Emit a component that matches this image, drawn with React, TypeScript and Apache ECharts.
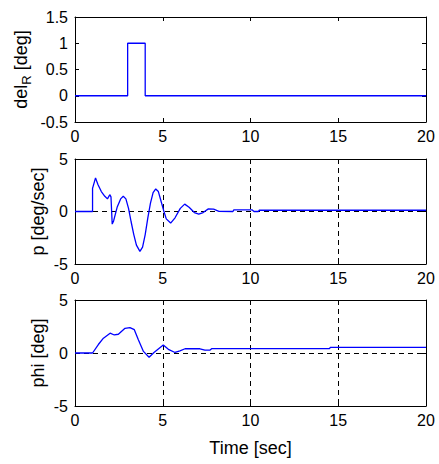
import React, { useEffect, useRef } from "react";
import * as echarts from "echarts";

// del_R input pulse
const tDelR = [0, 3, 3, 4, 4, 20];
const delR = [0, 0, 1, 1, 0, 0];

// roll rate p [deg/sec]
const tP = [0, 1.0, 1.0, 1.17, 1.3, 1.5, 1.7, 1.85, 1.98, 2.05, 2.12, 2.2, 2.4, 2.6, 2.75, 2.9, 3.05, 3.2, 3.35, 3.5, 3.7, 3.85, 4.0, 4.15, 4.3, 4.45, 4.6, 4.75, 4.9, 5.05, 5.2, 5.45, 5.7, 6.0, 6.25, 6.5, 6.8, 7.05, 7.3, 7.6, 7.9, 8.2, 9.0, 9.05, 10.1, 10.2, 10.45, 10.5, 20];
const pVals = [0, 0, 2.2, 3.2, 2.6, 1.9, 1.45, 1.2, 1.6, 1.4, -1.2, -0.9, 0.4, 1.2, 1.45, 1.2, 0.3, -1.0, -2.2, -3.2, -3.8, -3.4, -2.2, -0.6, 0.8, 1.8, 2.15, 1.9, 1.0, 0.1, -0.7, -1.1, -0.6, 0.3, 0.7, 0.4, -0.1, -0.25, -0.1, 0.25, 0.22, 0.02, 0.0, 0.15, 0.15, 0.0, 0.0, 0.12, 0.12];

// roll angle phi [deg]
const tPhi = [0, 1.0, 1.33, 1.62, 2.0, 2.24, 2.47, 2.85, 3.13, 3.38, 3.61, 3.9, 4.22, 4.5, 5.03, 5.32, 5.7, 5.98, 6.27, 7.12, 7.4, 7.7, 7.8, 14.5, 14.55, 20];
const phiVals = [0, 0, 0.8, 1.4, 1.87, 1.7, 1.77, 2.33, 2.4, 2.2, 1.25, 0.15, -0.4, 0.05, 0.76, 0.35, 0.05, 0.2, 0.4, 0.4, 0.28, 0.28, 0.42, 0.42, 0.54, 0.54];

const xTicks = [0, 5, 10, 15, 20];

const FONT = "Liberation Sans, Arial, Helvetica, sans-serif";
const BLUE = "#0000ff";

export default function App() {
  const ref = useRef<HTMLDivElement>(null);

  useEffect(() => {
    if (!ref.current) return;
    const chart = echarts.init(ref.current, null, { renderer: "svg" });

    const grids = [
      { left: 75, right: 13, top: 17, height: 105 },
      { left: 75, right: 13, top: 159, height: 105 },
      { left: 75, right: 13, top: 300, height: 106 },
    ];
    const yRanges = [
      { min: -0.5, max: 1.5, interval: 0.5 },
      { min: -5, max: 5, interval: 5 },
      { min: -5, max: 5, interval: 5 },
    ];
    const yNames = ["{a|del}{b|R}{a| [deg]}", "p [deg/sec]", "phi [deg]"];
    const yGaps = [42, 28, 28];
    const showGrid = [false, true, true];

    const dashed = { show: true, lineStyle: { color: "#000", type: [5, 4] as any, width: 1 } };
    const axisLine = { show: true, onZero: false, lineStyle: { color: "#000", width: 1 } };
    const tick = { show: true, inside: true, length: 4, lineStyle: { color: "#000" } };
    const label = { color: "#000", fontSize: 16, fontFamily: FONT };

    const xAxis: any[] = [];
    const yAxis: any[] = [];
    grids.forEach((g, i) => {
      xAxis.push({
        type: "value", gridIndex: i, min: xTicks[0], max: xTicks[xTicks.length - 1], interval: 5, position: "bottom",
        axisLine, axisTick: tick,
        axisLabel: { ...label, margin: 6 },
        splitLine: showGrid[i] ? dashed : { show: false },
        name: i === 2 ? "Time [sec]" : "",
        nameLocation: "middle", nameGap: 33, nameMoveOverlap: false,
        nameTextStyle: { color: "#000", fontSize: 18, fontFamily: FONT },
      });
      xAxis.push({
        type: "value", gridIndex: i, min: 0, max: 20, interval: 5, position: "top",
        axisLine, axisTick: tick, axisLabel: { show: false }, splitLine: { show: false },
      });
      yAxis.push({
        type: "value", gridIndex: i, ...yRanges[i], position: "left",
        axisLine, axisTick: tick,
        axisLabel: { ...label, margin: 7 },
        splitLine: showGrid[i] ? dashed : { show: false },
        name: yNames[i], nameLocation: "middle", nameGap: yGaps[i], nameRotate: 90,
        nameMoveOverlap: false,
        nameTextStyle: {
          color: "#000", fontSize: 18, fontFamily: FONT,
          rich: {
            a: { color: "#000", fontSize: 18, fontFamily: FONT, lineHeight: 24, verticalAlign: "middle" },
            b: { color: "#000", fontSize: 13, fontFamily: FONT, lineHeight: 13, verticalAlign: "bottom" },
          },
        },
      });
      yAxis.push({
        type: "value", gridIndex: i, ...yRanges[i], position: "right",
        axisLine, axisTick: tick, axisLabel: { show: false }, splitLine: { show: false },
      });
    });

    const mk = (ts: number[], vs: number[]) => ts.map((t, k) => [t, vs[k]]);
    const series: any[] = [
      { data: mk(tDelR, delR), xAxisIndex: 0, yAxisIndex: 0 },
      { data: mk(tP, pVals), xAxisIndex: 2, yAxisIndex: 2 },
      { data: mk(tPhi, phiVals), xAxisIndex: 4, yAxisIndex: 4 },
    ].map((s) => ({
      ...s, type: "line", showSymbol: false, symbol: "none",
      lineStyle: { color: BLUE, width: 1.3 }, z: 5,
    }));

    chart.setOption({
      animation: false,
      backgroundColor: "#fff",
      grid: grids.map((g) => ({ ...g, show: false })),
      xAxis, yAxis, series,
    });
    return () => chart.dispose();
  }, []);

  return (
    <div
      ref={ref}
      style={{ position: "absolute", left: 0, top: 0, width: 439, height: 464, background: "#fff" }}
    />
  );
}
